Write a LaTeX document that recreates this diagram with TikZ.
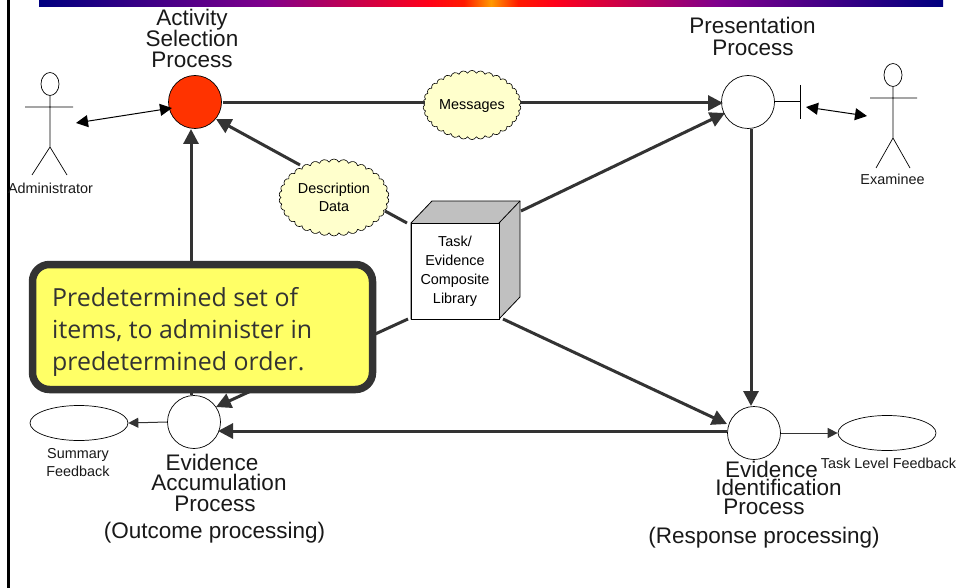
\documentclass[tikz,border=0pt]{standalone}
\usepackage{fontspec}
\setmainfont{Liberation Sans}
\newfontfamily\boxfont{Open Sans}
\usetikzlibrary{arrows.meta,shapes.geometric,shapes.symbols,calc}
\definecolor{linegray}{HTML}{333333}
\definecolor{cloudfill}{HTML}{FFFFCC}
\definecolor{boxfill}{HTML}{FFFF66}
\definecolor{cubegray}{HTML}{C0C0C0}
\definecolor{procred}{HTML}{FF3300}
\pgfdeclarehorizontalshading{topbar}{100bp}{
  rgb(0bp)=(0,0,0.5);
  rgb(25bp)=(0,0,0.5);
  rgb(37.5bp)=(0.5,0,0.55);
  rgb(46.5bp)=(1,0,0.1);
  rgb(48.5bp)=(1,0.1,0);
  rgb(50bp)=(1,0.6,0);
  rgb(51.5bp)=(1,0.1,0);
  rgb(53.5bp)=(1,0,0.1);
  rgb(62.5bp)=(0.5,0,0.55);
  rgb(75bp)=(0,0,0.5);
  rgb(100bp)=(0,0,0.5)}
\tikzset{
  flow/.style={draw=linegray,line width=3pt,-{Triangle[length=15pt,width=15pt]}},
  plainflow/.style={draw=linegray,line width=3pt},
  thin link/.style={draw=linegray,line width=1pt,-{Triangle[length=10pt,width=10pt]}},
  double link/.style={draw=black,line width=1pt,{Triangle[length=12pt,width=12pt]}-{Triangle[length=12pt,width=12pt]}},
  process/.style={circle,draw=black,line width=0.7pt,fill=white,minimum size=53pt,inner sep=0pt},
  datacloud/.style={cloud,cloud puffs=34,cloud puff arc=130,aspect=1.45,draw=black,line width=0.6pt,fill=cloudfill,inner sep=0pt,align=center,font=\fontsize{14.4}{18}\selectfont},
  feedback/.style={ellipse,draw=black,line width=0.7pt,fill=white,minimum width=98pt,minimum height=35pt,inner sep=0pt},
  biglabel/.style={font=\fontsize{22.5}{21}\selectfont,inner sep=0pt,anchor=base,text=black!90},
  smalllabel/.style={font=\fontsize{14.4}{18}\selectfont,inner sep=0pt,anchor=base,text=black!90},
  stick/.style={draw=black,line width=0.7pt},
}
\begin{document}
\begin{tikzpicture}[x=1pt,y=-1pt]
\useasboundingbox (0,0) rectangle (960,588);
\fill[white] (0,0) rectangle (960,588);
\draw[black,line width=2.5pt] (8.5,0) -- (8.5,588);
\shade[shading=topbar] (39,0) rectangle (943,7);

% nodes
\node[process,fill=procred] (asp) at (195,102) {};
\node[process] (pp) at (748,102) {};
\node[process] (eap) at (194,422) {};
\node[process] (eip) at (754,433) {};
\node[feedback] (sf) at (79,423) {};
\node[feedback] (tf) at (887,433) {};
\node[datacloud,minimum width=98pt,minimum height=68pt,text depth=0pt] (msg) at (472,105) {Messages};
\node[datacloud,minimum width=110pt,minimum height=77pt] (desc) at (334,197.5) {Description\\Data};

% cube
\draw[black,line width=0.8pt,fill=cubegray] (411,223) -- (432,201) -- (520,201) -- (520,297) -- (499,319) -- (411,319) -- cycle;
\draw[black,line width=0.8pt] (499,223) -- (520,201);
\node[draw=black,line width=0.8pt,fill=white,minimum width=88pt,minimum height=96pt,inner sep=0pt,align=center,font=\fontsize{14.4}{19}\selectfont] (lib) at (455,271) {Task/\\Evidence\\Composite\\Library};

% free connector ends
\coordinate (a1) at (223,103);
\coordinate (a2) at (425,103);
\coordinate (a3) at (521,103);
\coordinate (a4) at (723,103);
\coordinate (b1) at (300,165);
\coordinate (b2) at (216,119);
\coordinate (b3) at (385,211);
\coordinate (b4) at (407,223);
\coordinate (c1) at (521,211);
\coordinate (c2) at (725,113);
\coordinate (d1) at (503,319);
\coordinate (d2) at (727,424);
\coordinate (e1) at (408,319);
\coordinate (e2) at (216,407);
\coordinate (f1) at (751,129);
\coordinate (f2) at (751,406);
\coordinate (g1) at (727,431);
\coordinate (g2) at (218,431);
\coordinate (h1) at (191,395);
\coordinate (h2) at (191,129);

% thick connectors
\draw[plainflow] (a1) -- (a2);
\draw[flow] (a3) -- (a4);
\draw[flow] (b1) -- (b2);
\draw[plainflow] (b3) -- (b4);
\draw[flow] (c1) -- (c2);
\draw[flow] (d1) -- (d2);
\draw[flow] (e1) -- (e2);
\draw[flow] (f1) -- (f2);
\draw[flow] (g1) -- (g2);
\draw[flow] (h1) -- (h2);

% thin connectors
\draw[thin link] (eap.west) -- (sf.east);
\draw[thin link] (eip.east) -- (tf.west);
\coordinate (i1) at (76,123);
\coordinate (i2) at (172,108);
\draw[double link] (i1) -- (i2);
\coordinate (j1) at (806,107);
\coordinate (j2) at (867,116);
\draw[double link] (j1) -- (j2);

% interface bar
\coordinate (k1) at (800,101);
\coordinate (k2) at (800,85);
\coordinate (k3) at (800,119);
\draw[stick] (pp.east |- k1) -- (k1);
\draw[stick] (k2) -- (k3);

% actors
\node[ellipse,draw=black,line width=0.7pt,minimum width=18pt,minimum height=23pt,inner sep=0pt] (ahead) at (50,84) {};
\coordinate (ahip) at (50,147);
\coordinate (aarmL) at (25,107);
\coordinate (aarmR) at (73,107);
\coordinate (alegL) at (32,175);
\coordinate (alegR) at (67,175);
\draw[stick] (ahead.south) -- (ahip) (aarmL) -- (aarmR) (alegL) -- (ahip) -- (alegR);
\node[ellipse,draw=black,line width=0.7pt,minimum width=18pt,minimum height=23pt,inner sep=0pt] (xhead) at (893,75) {};
\coordinate (xhip) at (893,138);
\coordinate (xarmL) at (870,98);
\coordinate (xarmR) at (917,98);
\coordinate (xlegL) at (876,168);
\coordinate (xlegR) at (910,168);
\draw[stick] (xhead.south) -- (xhip) (xarmL) -- (xarmR) (xlegL) -- (xhip) -- (xlegR);

% labels
\node[smalllabel] (ladm) at (50.5,193.5) {Administrator};
\node[smalllabel] (lexa) at (892.5,185) {Examinee};
\node[smalllabel] (lsum) at (78,458.5) {Summary};
\node[smalllabel] (lsum2) at (78,476.5) {Feedback};
\node[smalllabel] (ltask) at (888.5,468) {Task Level Feedback};

\node[biglabel] (l1) at (192,25.5) {Activity};
\node[biglabel] (l2) at (192,46.5) {Selection};
\node[biglabel] (l3) at (192,67.5) {Process};
\node[biglabel] (l4) at (752.5,34) {Presentation};
\node[biglabel] (l5) at (753,55.5) {Process};
\node[biglabel] (l6) at (212,470) {Evidence};
\node[biglabel] (l7) at (219,490) {Accumulation};
\node[biglabel] (l8) at (215,511) {Process};
\node[biglabel] (l9) at (214.5,538) {(Outcome processing)};
\node[biglabel] (l10) at (771.5,477.5) {Evidence};
\node[biglabel] (l11) at (778.5,495.5) {Identification};
\node[biglabel] (l12) at (764,514.5) {Process};
\node[biglabel] (l13) at (764,543) {(Response processing)};

% callout
\node[draw=linegray,line width=7.5pt,fill=boxfill,rounded corners=17pt,minimum width=340pt,minimum height=125pt,inner sep=0pt] (callout) at (202.5,327) {};
\node[font=\boxfont\fontsize{24.9}{32}\selectfont,text=linegray,align=left,anchor=west,inner sep=0pt] (callouttext) at (52,332) {Predetermined set of\\items, to administer in\\predetermined order.};
\end{tikzpicture}
\end{document}
